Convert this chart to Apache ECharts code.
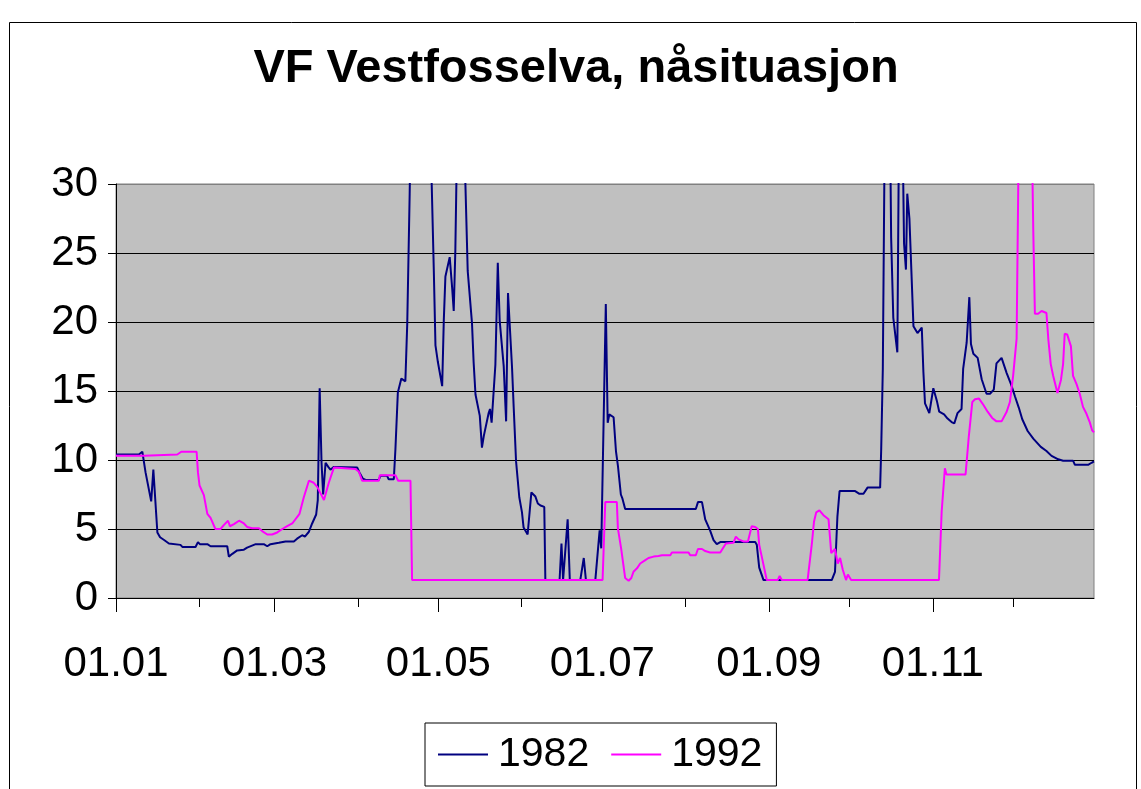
<!DOCTYPE html>
<html><head><meta charset="utf-8">
<script src="https://cdn.jsdelivr.net/npm/echarts@6/dist/echarts.min.js"></script>
<style>html,body{margin:0;padding:0;background:#fff}#c{width:1141px;height:789px}</style>
</head><body><div id="c"></div>
<script>
// Day of year (0 = 01.01) of each month start, and the tick labels
const monthStartDays = [0, 31, 59, 90, 120, 151, 181, 212, 243, 273, 304, 334];
const labeledDays = [0, 59, 120, 181, 243, 304];
const tickLabels = ['01.01', '01.03', '01.05', '01.07', '01.09', '01.11'];
const seriesNames = ['1982', '1992'];

// 1982: vertices (day of year, value)
const days1982 = [0,8.5,9.8,10.4,11,13.1,13.9,15.4,16.4,17.9,19.7,20.3,24,24.7,29.6,30.5,31.2,34,35.2,41.4,42,43.3,45.1,47.6,48.8,52,55,56.3,57.5,60.6,63.1,66.2,67.4,69.3,70.3,71.8,73,74.5,75.1,75.8,76.5,77.1,78,79,79.8,81.1,89.8,90.6,91.9,92.9,97.8,98.4,100.9,101.5,103.4,104,104.9,106.2,107.7,108.4,109.3,110,116.5,118.3,118.9,119.8,121.4,122,122.6,124.2,125.1,125.7,126.3,127,129.5,130.9,132.5,133.1,133.8,135.4,136.2,136.9,138.7,139.2,139.8,141.2,142.1,142.8,144.3,145.2,145.9,147.4,148,148.9,150.1,151.1,151.7,153.2,154,154.6,156.1,157,158,159.4,159.8,165.1,165.8,166.4,168.1,168.9,172.8,174.1,174.9,178.4,180,180.6,182.3,183,183.6,185.2,186.1,186.8,187.9,188.5,189.5,215.8,216.6,218.1,219.3,221.1,222.4,223.6,224.9,237.9,238.5,239.4,241,266.4,267.6,268.5,269.3,275.1,276.7,278.2,279.7,284.4,284.8,285.4,286.2,288,288.5,289.3,290.8,291.5,292.6,293.3,294,294.5,295.3,296.8,298.3,299.9,300.5,301.1,302.7,304.2,305.5,306.4,308.2,309.5,311,312,313.2,314.7,315.3,316.6,317.6,318.2,319.1,320.7,322.2,324,325.3,326.7,327.7,329.6,331.5,333.1,334.6,336,337.3,339.3,341.4,344.2,346.3,348.2,350.7,352.5,356.2,356.9,361.8,363.1,364];
const flow1982 = [10.4,10.4,10.6,10.5,9.1,7.0,9.3,4.75,4.4,4.2,3.95,3.85,3.85,3.7,3.7,4.05,3.9,3.9,3.75,3.75,3.0,3.2,3.45,3.5,3.65,3.9,3.9,3.75,3.9,4.0,4.1,4.1,4.3,4.55,4.45,4.8,5.4,6.05,7.1,15.2,9.8,7.5,9.8,9.5,9.3,9.5,9.45,9.1,8.65,8.55,8.55,8.85,8.85,8.6,8.6,10.8,14.9,15.9,15.7,19.9,29.3,38,38,23.6,18.3,17.1,15.35,20.1,23.3,24.7,22.5,20.8,25.2,34,34,23.7,19.9,17.1,14.75,13.2,10.9,11.75,13.4,13.7,12.7,16.9,24.3,20.1,16.8,12.8,22.1,16.7,13.9,9.9,7.3,6.2,5.1,4.6,6.35,7.65,7.35,6.85,6.7,6.6,1.3,1.3,3.95,1.3,5.7,1.3,1.3,2.9,1.3,1.3,4.9,3.6,21.3,12.7,13.3,13.1,10.6,9.6,7.5,7.2,6.45,6.45,6.95,6.95,5.7,4.9,4.2,3.9,4.05,4.05,3.85,2.2,1.3,1.3,1.9,5.9,7.75,7.75,7.55,7.55,8.0,8.0,10.8,16.6,36,36,26.1,20.3,17.8,36,36,25.7,23.8,29.3,27.5,19.7,19.2,19.6,16.4,14.1,13.4,15.2,14.3,13.5,13.3,13.0,12.75,12.65,13.4,13.7,16.6,18.5,21.8,18.4,17.7,17.4,15.85,14.8,14.8,15.1,17.0,17.4,16.3,15.5,14.6,13.8,12.95,12.1,11.55,10.95,10.65,10.3,10.05,9.95,9.95,9.65,9.65,9.8,9.9];

// 1992: vertices (day of year, value)
const days1992 = [0,10.4,11,22.8,24.3,30,30.5,31.1,32.7,34,35.2,37,38.9,40.2,41.7,42.4,43.9,45.8,47.6,48.8,50.7,53.2,54.4,56.3,58.1,60,61.9,63.7,65.6,68.3,69.9,71.8,73.6,74.9,76.1,77.4,79.2,81.1,89.1,90.4,91.6,97.8,98.2,104,105,109.6,110.2,181.1,182.1,186.4,186.8,188,189.5,190.8,191.8,192.6,193.9,195.1,197,198.2,200.1,201.9,203.2,206.3,206.9,213.1,213.7,215.8,216.6,218.1,219.3,221.1,224.9,227,229.8,230.7,231.7,233.5,235.2,236.6,237.9,238.9,239.4,241,242.2,246.3,247,247.8,257.4,259,259.8,260.6,261.8,263.3,265.2,266.2,267.6,268.6,269.5,270.5,271.7,272.4,273.6,306.3,307.3,308.5,309.1,316.2,317.4,318.7,319.7,321.2,322.8,324.4,326.1,327.7,329.6,331.5,332.7,333.9,335.2,336.2,340.6,341.4,342,343.2,344.5,346.3,347,347.9,348.8,350.4,351.7,352.5,353.1,354,355.4,356.2,357.5,358.7,359.9,361.2,362.4,363.3,364];
const flow1992 = [10.3,10.3,10.4,10.4,10.6,10.6,9.1,8.15,7.45,6.1,5.8,5.0,5.0,5.3,5.6,5.2,5.35,5.6,5.4,5.15,5.05,5.05,4.85,4.6,4.6,4.75,5.0,5.2,5.4,6.1,7.3,8.5,8.35,8.05,7.6,7.1,8.35,9.45,9.35,9.15,8.5,8.5,8.9,8.9,8.5,8.5,1.3,1.3,6.95,6.95,5.05,3.6,1.45,1.25,1.45,1.9,2.15,2.5,2.75,2.9,3.0,3.05,3.1,3.1,3.3,3.3,3.1,3.1,3.55,3.55,3.4,3.3,3.3,3.95,4.0,4.45,4.25,4.1,4.1,5.2,5.15,5.0,3.85,2.4,1.3,1.3,1.6,1.3,1.3,3.95,5.55,6.2,6.35,6.0,5.7,3.25,3.55,2.5,2.9,2.05,1.3,1.7,1.3,1.3,6.25,9.4,8.95,8.95,11.7,14.2,14.4,14.45,14.0,13.5,13.05,12.8,12.8,13.5,14.2,16.1,18.8,37,37,26.6,20.6,20.6,20.8,20.65,18.75,16.95,16.1,14.85,15.8,16.95,19.15,19.1,18.25,16.1,15.5,14.8,13.85,13.35,12.75,12.15,12.0];

const FONT = '"Liberation Sans", Arial, sans-serif';
const pairs = (d, v) => d.map((x, i) => [x, v[i]]);
const unlabeledDays = monthStartDays.filter(d => labeledDays.indexOf(d) < 0);

const chart = echarts.init(document.getElementById('c'), null, {renderer: 'canvas'});
chart.setOption({
  animation: false,
  backgroundColor: '#ffffff',
  title: {
    text: 'VF Vestfosselva, nåsituasjon',
    left: 576, top: 46, padding: 0, textAlign: 'center',
    textStyle: {fontFamily: FONT, fontWeight: 'bold', fontSize: 47, color: '#000'}
  },
  graphic: [{
    type: 'rect', left: 7, top: 20, silent: true,
    shape: {x: 0, y: 0, width: 1127, height: 820},
    style: {fill: 'none', stroke: '#000', lineWidth: 1}
  }],
  legend: {
    data: seriesNames, left: 425, top: 723,
    padding: [11, 14, 11, 13], itemGap: 22, itemWidth: 50, itemHeight: 2,
    icon: 'rect', borderColor: '#000', borderWidth: 1,
    textStyle: {fontFamily: FONT, fontSize: 41, color: '#000', padding: [0, 0, 0, 5]}
  },
  grid: {
    left: 116, top: 184, right: 47, bottom: 191, containLabel: false,
    show: true, backgroundColor: '#c0c0c0', borderColor: '#808080', borderWidth: 1
  },
  xAxis: [{
    type: 'value', min: 0, max: 364, position: 'bottom',
    axisLine: {show: true, lineStyle: {color: '#000', width: 1}},
    axisTick: {show: true, customValues: labeledDays, length: 14, lineStyle: {color: '#000'}},
    axisLabel: {
      customValues: labeledDays, margin: 45, fontFamily: FONT, fontSize: 42, color: '#000',
      formatter: v => tickLabels[labeledDays.indexOf(v)]
    },
    splitLine: {show: false}
  }, {
    type: 'value', min: 0, max: 364, position: 'bottom', gridIndex: 0,
    axisLine: {show: false},
    axisTick: {show: true, customValues: unlabeledDays, length: 9, lineStyle: {color: '#000'}},
    axisLabel: {show: false},
    splitLine: {show: false}
  }],
  yAxis: {
    type: 'value', min: 0, max: 30, interval: 5,
    axisLine: {show: true, lineStyle: {color: '#000', width: 1}},
    axisTick: {show: true, length: 8, lineStyle: {color: '#000'}},
    axisLabel: {margin: 18, fontFamily: FONT, fontSize: 42, color: '#000'},
    splitLine: {show: true, lineStyle: {color: ['#000', '#000', '#000', '#000', '#000', '#000', '#808080'], width: 1}}
  },
  series: [{
    name: seriesNames[0], type: 'line', xAxisIndex: 0, symbol: 'none', clip: true,
    data: pairs(days1982, flow1982),
    itemStyle: {color: '#000080'}, lineStyle: {color: '#000080', width: 2}
  }, {
    name: seriesNames[1], type: 'line', xAxisIndex: 0, symbol: 'none', clip: true,
    data: pairs(days1992, flow1992),
    itemStyle: {color: '#ff00ff'}, lineStyle: {color: '#ff00ff', width: 2}
  }]
});
</script></body></html>
